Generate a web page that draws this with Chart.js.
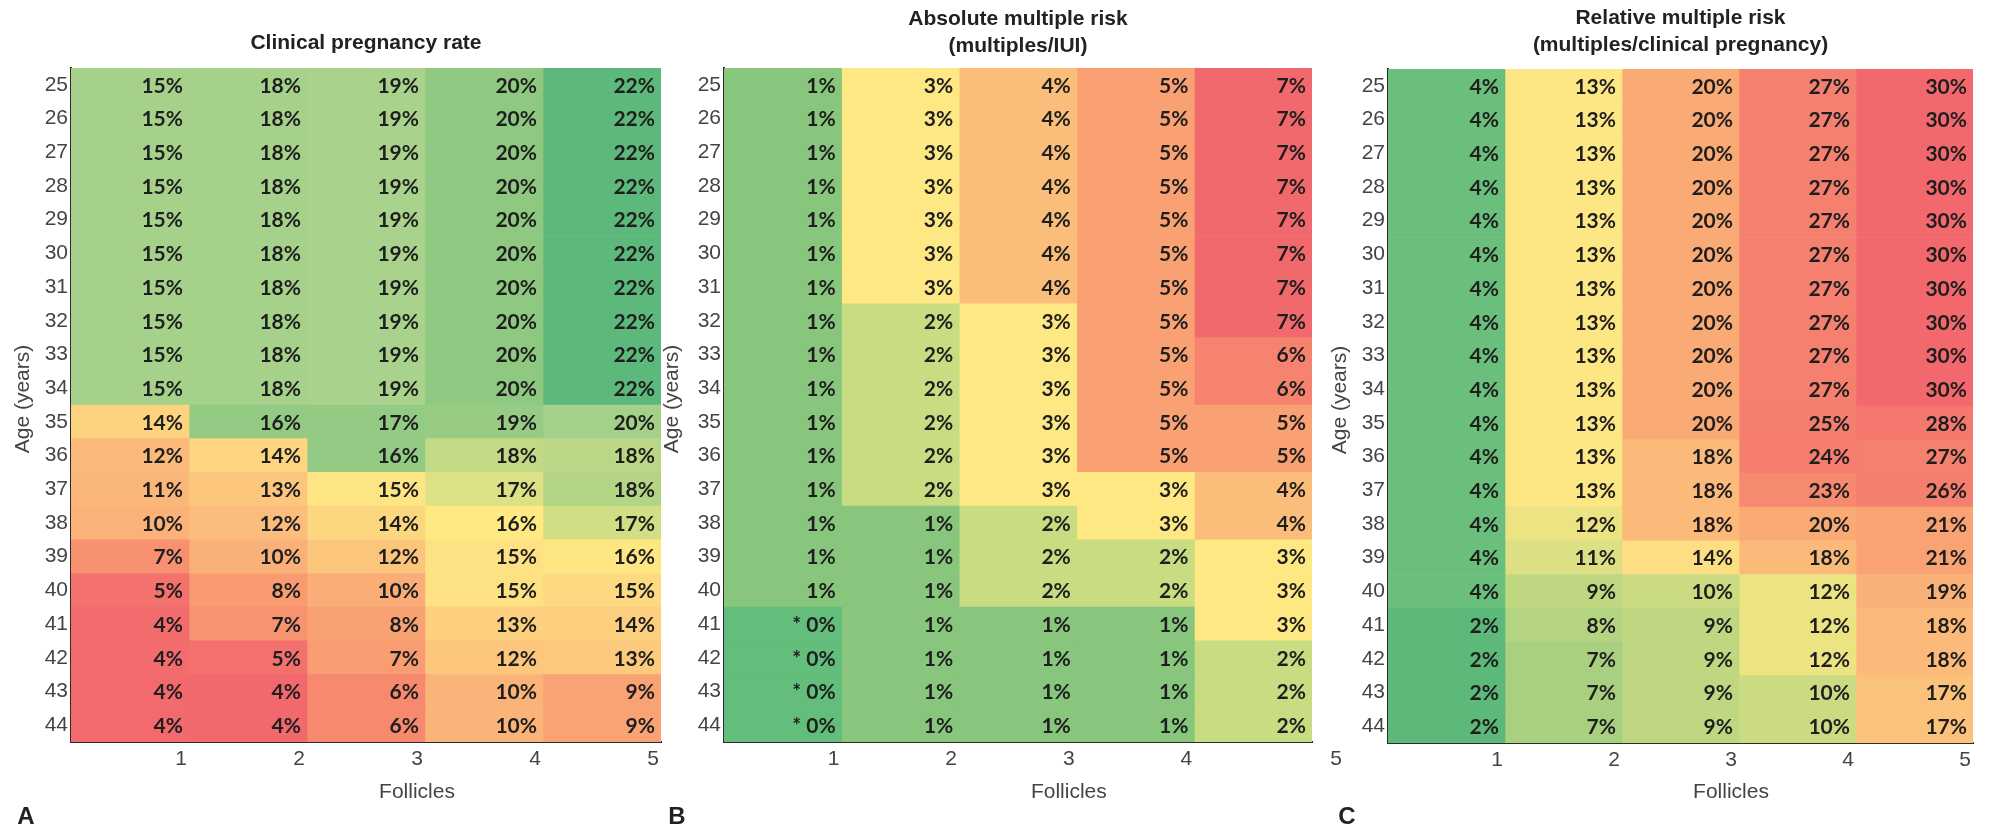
<!DOCTYPE html>
<html>
<head>
<meta charset="utf-8">
<script src="https://cdn.jsdelivr.net/npm/chart.js@4.4.0/dist/chart.umd.min.js"></script>
<style>
  body { margin: 0; background: #fff; width: 1990px; height: 829px; overflow: hidden; position: relative; }
  canvas { position: absolute; top: 0; }
</style>
</head>
<body>
<canvas id="chartA" width="680" height="829" style="left:0px"></canvas>
<canvas id="chartB" width="710" height="829" style="left:640px"></canvas>
<canvas id="chartC" width="690" height="829" style="left:1300px"></canvas>
<script>
const ages = ['25', '26', '27', '28', '29', '30', '31', '32', '33', '34',
              '35', '36', '37', '38', '39', '40', '41', '42', '43', '44']
const follicles = [1, 2, 3, 4, 5]

// clinical pregnancy rate (%), one row per age, one column per follicle count
const pregnancyRate = [
    [15, 18, 19, 20, 22], [15, 18, 19, 20, 22], [15, 18, 19, 20, 22], [15, 18, 19, 20, 22],
    [15, 18, 19, 20, 22], [15, 18, 19, 20, 22], [15, 18, 19, 20, 22], [15, 18, 19, 20, 22],
    [15, 18, 19, 20, 22], [15, 18, 19, 20, 22],
    [14, 16, 17, 19, 20],
    [12, 14, 16, 18, 18],
    [11, 13, 15, 17, 18],
    [10, 12, 14, 16, 17],
    [7, 10, 12, 15, 16],
    [5, 8, 10, 15, 15],
    [4, 7, 8, 13, 14],
    [4, 5, 7, 12, 13],
    [4, 4, 6, 10, 9],
    [4, 4, 6, 10, 9]
]

// absolute multiple risk (multiples/IUI, %)
const absoluteRisk = [
    [1, 3, 4, 5, 7], [1, 3, 4, 5, 7], [1, 3, 4, 5, 7], [1, 3, 4, 5, 7],
    [1, 3, 4, 5, 7], [1, 3, 4, 5, 7], [1, 3, 4, 5, 7],
    [1, 2, 3, 5, 7],
    [1, 2, 3, 5, 6],
    [1, 2, 3, 5, 6],
    [1, 2, 3, 5, 5],
    [1, 2, 3, 5, 5],
    [1, 2, 3, 3, 4],
    [1, 1, 2, 3, 4],
    [1, 1, 2, 2, 3],
    [1, 1, 2, 2, 3],
    [0, 1, 1, 1, 3],
    [0, 1, 1, 1, 2],
    [0, 1, 1, 1, 2],
    [0, 1, 1, 1, 2]
]

// relative multiple risk (multiples/clinical pregnancy, %)
const relativeRisk = [
    [4, 13, 20, 27, 30], [4, 13, 20, 27, 30], [4, 13, 20, 27, 30], [4, 13, 20, 27, 30],
    [4, 13, 20, 27, 30], [4, 13, 20, 27, 30], [4, 13, 20, 27, 30], [4, 13, 20, 27, 30],
    [4, 13, 20, 27, 30], [4, 13, 20, 27, 30],
    [4, 13, 20, 25, 28],
    [4, 13, 18, 24, 27],
    [4, 13, 18, 23, 26],
    [4, 12, 18, 20, 21],
    [4, 11, 14, 18, 21],
    [4, 9, 10, 12, 19],
    [2, 8, 9, 12, 18],
    [2, 7, 9, 12, 18],
    [2, 7, 9, 10, 17],
    [2, 7, 9, 10, 17]
]

// cell shading of panel A as printed (not a plain function of the rounded value)
const topRowsA = ['#a6d18b', '#a6d18b', '#a9d28c', '#8fc981', '#5db97b']
const pregnancyColors = [
    topRowsA, topRowsA, topRowsA, topRowsA, topRowsA,
    topRowsA, topRowsA, topRowsA, topRowsA, topRowsA,
    ['#fdd380', '#93cb84', '#93cb84', '#98cc85', '#a5d08a'],
    ['#fbb97a', '#fdd580', '#93cb84', '#c2d985', '#bad785'],
    ['#fbb77a', '#fcc67d', '#fee583', '#dbe184', '#b4d585'],
    ['#fab279', '#fbbd7b', '#fdd680', '#fee983', '#d2de84'],
    ['#f7916f', '#fab079', '#fcc57c', '#fee182', '#fee683'],
    ['#f3726d', '#f89b71', '#faad77', '#fee182', '#fdda81'],
    ['#f26b6d', '#f7936f', '#f8a173', '#fcd07e', '#fccf7e'],
    ['#f26b6d', '#f3706d', '#f89c71', '#fcc67d', '#fcca7d'],
    ['#f26a6d', '#f2696d', '#f6896e', '#fab378', '#f9a274'],
    ['#f26a6d', '#f2696d', '#f6896e', '#fab378', '#f9a274']
]

const absoluteStops = [[0, '#63bd7b'], [1, '#88c67d'], [2, '#c8dc82'], [3, '#fee883'],
                       [4, '#fbbe7a'], [5, '#f9a173'], [6, '#f5836f'], [7, '#f2696d']]
const relativeStops = [[2, '#5db97a'], [4, '#6bbf7c'], [7, '#a8d080'], [10, '#cbdb82'],
                       [13, '#fde784'], [18, '#fbb97a'], [21, '#f9a273'], [24, '#f57e6e'],
                       [27, '#f5806f'], [30, '#f2686d']]

const TICK_FONT = { family: 'Liberation Sans', size: 21 }
const AXIS_COLOR = '#2b2b2b'
const TEXT_GREY = '#444'

function hexToRgb(h) {
    const n = parseInt(h.slice(1), 16)
    return [n >> 16, (n >> 8) & 255, n & 255]
}

function ramp(stops, v) {
    if (v <= stops[0][0]) return stops[0][1]
    for (let i = 1; i < stops.length; i++) {
        if (v <= stops[i][0]) {
            const [v0, c0] = stops[i - 1]
            const [v1, c1] = stops[i]
            const t = (v - v0) / (v1 - v0)
            const a = hexToRgb(c0), b = hexToRgb(c1)
            return `rgb(${a.map((x, k) => Math.round(x + (b[k] - x) * t)).join(',')})`
        }
    }
    return stops[stops.length - 1][1]
}

const decorations = {
    id: 'decorations',
    afterDraw(chart, args, o) {
        const { ctx, chartArea: a, scales } = chart
        ctx.save()
        ctx.textAlign = 'center'
        ctx.textBaseline = 'middle'

        ctx.font = 'bold 21px "Liberation Sans"'
        ctx.fillStyle = '#222'
        o.title.forEach((line, i) => ctx.fillText(line, (a.left + a.right) / 2, o.titleY[i]))

        ctx.font = '21px "Liberation Sans"'
        ctx.fillStyle = TEXT_GREY
        ctx.fillText('Follicles', scales.x.getPixelForValue(3) - 8, 792)
        if (o.strayFive) ctx.fillText('5', a.right + 24, 759)

        ctx.font = 'bold 24px "Liberation Sans"'
        ctx.fillStyle = '#222'
        ctx.fillText(o.letter, a.left - o.letterGap, 817)

        ctx.font = '21px "Liberation Sans"'
        ctx.fillStyle = TEXT_GREY
        ctx.translate(a.left - o.yTitleGap, (a.top + a.bottom) / 2 - 6)
        ctx.rotate(-Math.PI / 2)
        ctx.fillText('Age (years)', 0, 0)
        ctx.restore()
    }
}

const cellLabels = {
    id: 'cellLabels',
    afterDatasetsDraw(chart, args, o) {
        const ctx = chart.ctx
        ctx.save()
        ctx.font = 'bold 21px Lato'
        ctx.fillStyle = '#1e1e1e'
        ctx.textAlign = 'right'
        ctx.textBaseline = 'middle'
        follicles.forEach((f, c) => {
            chart.getDatasetMeta(c).data.forEach((bar, r) => {
                const v = o.values[r][c]
                const text = v === 0 ? '* 0%' : v + '%'
                ctx.fillText(text, bar.x - 6, bar.y + 1)
            })
        })
        ctx.restore()
    }
}

function drawPanel(id, p) {
    const datasets = follicles.map((f, c) => ({
        data: ages.map(() => [f - 1, f]),
        backgroundColor: ages.map((a, r) => p.colorAt(r, c)),
        borderWidth: 0,
        grouped: false,
        categoryPercentage: 1,
        barPercentage: 1
    }))

    new Chart(document.getElementById(id), {
        type: 'bar',
        data: { labels: ages, datasets },
        plugins: [cellLabels, decorations],
        options: {
            indexAxis: 'y',
            responsive: false,
            animation: false,
            layout: { padding: { left: 0, right: p.right, top: p.top, bottom: 0 } },
            plugins: {
                legend: { display: false },
                tooltip: { enabled: false },
                cellLabels: { values: p.values },
                decorations: p.deco
            },
            scales: {
                x: {
                    type: 'linear',
                    min: 0,
                    max: 5,
                    z: 1,
                    grid: { display: false, drawTicks: false },
                    border: { display: true, color: AXIS_COLOR, width: 2 },
                    ticks: {
                        stepSize: 1,
                        padding: 5,
                        labelOffset: -8,
                        font: TICK_FONT,
                        color: TEXT_GREY,
                        callback: v => (v >= 1 && v <= p.lastTick) ? String(v) : ''
                    },
                    afterFit: s => { s.height = p.xHeight }
                },
                y: {
                    z: 1,
                    grid: { display: false, drawTicks: false },
                    border: { display: true, color: AXIS_COLOR, width: 2 },
                    ticks: { padding: 3, font: TICK_FONT, color: TEXT_GREY, autoSkip: false },
                    afterFit: s => { s.width = p.yWidth }
                }
            }
        }
    })
}

drawPanel('chartA', {
    values: pregnancyRate,
    colorAt: (r, c) => pregnancyColors[r][c],
    yWidth: 71, right: 19, top: 68, xHeight: 87, lastTick: 5,
    deco: { title: ['Clinical pregnancy rate'], titleY: [43], letter: 'A', letterGap: 45, yTitleGap: 48 }
})

drawPanel('chartB', {
    values: absoluteRisk,
    colorAt: (r, c) => ramp(absoluteStops, absoluteRisk[r][c]),
    yWidth: 84, right: 38, top: 68, xHeight: 87, lastTick: 4,
    deco: { title: ['Absolute multiple risk', '(multiples/IUI)'], titleY: [19, 46], letter: 'B', letterGap: 47, yTitleGap: 52, strayFive: true }
})

drawPanel('chartC', {
    values: relativeRisk,
    colorAt: (r, c) => ramp(relativeStops, relativeRisk[r][c]),
    yWidth: 88, right: 17, top: 69, xHeight: 86, lastTick: 5,
    deco: { title: ['Relative multiple risk', '(multiples/clinical pregnancy)'], titleY: [18, 45], letter: 'C', letterGap: 41, yTitleGap: 48 }
})
</script>
</body>
</html>
